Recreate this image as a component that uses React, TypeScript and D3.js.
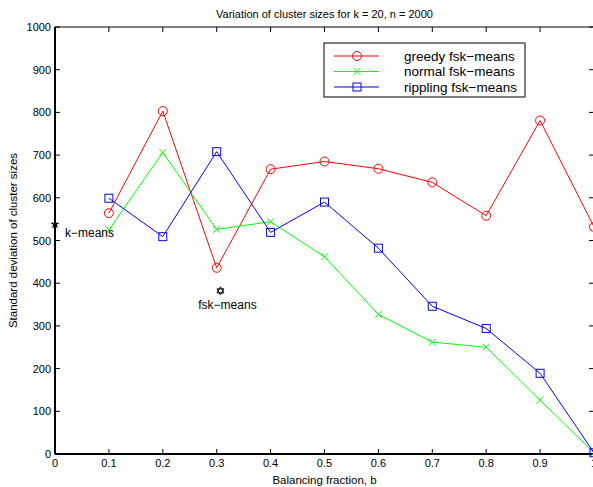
import React from "react";
import * as d3 from "d3";

const bValues = [0.1, 0.2, 0.3, 0.4, 0.5, 0.6, 0.7, 0.8, 0.9, 1.0];
const greedy = [564, 803, 436, 667, 685, 668, 636, 558, 781, 532];
const normal = [525, 706, 526, 544, 462, 327, 262, 250, 126, 3];
const rippling = [599, 509, 708, 519, 590, 482, 346, 294, 189, 3];
const kMeans = { b: 0, v: 538, label: "k\u2212means" };
const fskMeans = { b: 0.307, v: 382, label: "fsk\u2212means" };
const xTicks = [0, 0.1, 0.2, 0.3, 0.4, 0.5, 0.6, 0.7, 0.8, 0.9, 1];
const yTicks = [0, 100, 200, 300, 400, 500, 600, 700, 800, 900, 1000];
const seriesNames = ["greedy fsk\u2212means", "normal fsk\u2212means", "rippling fsk\u2212means"];

const W = 593, H = 487;
const L = 55, R = 594, T = 27, B = 454;
const FONT = "'Liberation Sans', Arial, Helvetica, sans-serif";

export default function App() {
  const x = d3.scaleLinear().domain([0, 1]).range([L, R]);
  const y = d3.scaleLinear().domain([0, 1000]).range([B, T]);
  const line = d3.line<number>().x((_, i) => x(bValues[i])).y((d) => y(d));
  const series = [
    { data: greedy, color: "#ff0000", marker: "o" },
    { data: normal, color: "#00ff00", marker: "x" },
    { data: rippling, color: "#0000ff", marker: "s" },
  ];
  const marker = (m: string, cx: number, cy: number, color: string, key: string) => {
    if (m === "o") return <circle key={key} cx={cx} cy={cy} r={4.5} fill="none" stroke={color} strokeWidth={1} />;
    if (m === "s") return <rect key={key} x={cx - 4} y={cy - 4} width={8} height={8} fill="none" stroke={color} strokeWidth={1} />;
    return (
      <path key={key} d={`M${cx - 3.5},${cy - 3.5}L${cx + 3.5},${cy + 3.5}M${cx - 3.5},${cy + 3.5}L${cx + 3.5},${cy - 3.5}`} stroke={color} strokeWidth={1} />
    );
  };
  const hex = (cx: number, cy: number, r: number) => {
    const tri = (off: number) =>
      d3.range(3).map((k) => {
        const a = off + (k * 2 * Math.PI) / 3;
        return `${cx + r * Math.sin(a)},${cy - r * Math.cos(a)}`;
      });
    return `M${tri(0).join("L")}ZM${tri(Math.PI).join("L")}Z`;
  };
  const star = d3.symbol(d3.symbolStar, 28)()!;
  return (
    <svg width={W} height={H} style={{ position: "absolute", left: 0, top: 0, background: "#fff" }} fontFamily={FONT}>
      <rect x={0} y={0} width={W} height={H} fill="#fff" />
      <text x={(L + R) / 2} y={18} textAnchor="middle" fontSize={11}>Variation of cluster sizes for k = 20, n = 2000</text>
      {xTicks.map((t) => (
        <g key={"xt" + t}>
          <line x1={x(t)} x2={x(t)} y1={B} y2={B - 5} stroke="#000" />
          <line x1={x(t)} x2={x(t)} y1={T} y2={T + 5} stroke="#000" />
          <text x={x(t)} y={B + 13} textAnchor="middle" fontSize={11}>{t}</text>
        </g>
      ))}
      {yTicks.map((t) => (
        <g key={"yt" + t}>
          <line x1={L} x2={L + 5} y1={y(t)} y2={y(t)} stroke="#000" />
          <line x1={R - 5} x2={R} y1={y(t)} y2={y(t)} stroke="#000" />
          <text x={L - 4} y={y(t) + 4} textAnchor="end" fontSize={11}>{t}</text>
        </g>
      ))}
      <rect x={L} y={T} width={R - L} height={B - T} fill="none" stroke="#000" strokeWidth={1} />
      <line x1={L} x2={L} y1={T} y2={B} stroke="#000" strokeWidth={2} />
      <line x1={L} x2={R} y1={B} y2={B} stroke="#000" strokeWidth={2} />
      <text x={(L + R) / 2} y={484} textAnchor="middle" fontSize={11.5}>Balancing fraction, b</text>
      <text transform={`translate(17,${(T + B) / 2}) rotate(-90)`} textAnchor="middle" fontSize={11.5}>Standard deviation of cluster sizes</text>
      {series.map((s, si) => (
        <g key={"s" + si}>
          <path d={line(s.data)!} fill="none" stroke={s.color} strokeWidth={1} />
          {s.data.map((v, i) => marker(s.marker, x(bValues[i]), y(v), s.color, `m${si}-${i}`))}
        </g>
      ))}
      <path d={star} transform={`translate(${x(kMeans.b)},${y(kMeans.v)})`} fill="#000" />
      <text x={x(kMeans.b) + 10} y={y(kMeans.v) + 13} fontSize={12}>{kMeans.label}</text>
      <path d={hex(x(fskMeans.b), y(fskMeans.v), 4)} fill="none" stroke="#000" strokeWidth={1} />
      <text x={x(fskMeans.b) + 7} y={y(fskMeans.v) + 18} textAnchor="middle" fontSize={12}>{fskMeans.label}</text>
      <rect x={324} y={43} width={201} height={54} fill="#fff" stroke="#000" strokeWidth={1} />
      {series.map((s, i) => {
        const ly = 56 + i * 15.5;
        return (
          <g key={"lg" + i}>
            <line x1={334} x2={379} y1={ly} y2={ly} stroke={s.color} />
            {marker(s.marker, 357, ly, s.color, "lm" + i)}
            <text x={404} y={ly + 4.5} fontSize={13.5}>{seriesNames[i]}</text>
          </g>
        );
      })}
    </svg>
  );
}
